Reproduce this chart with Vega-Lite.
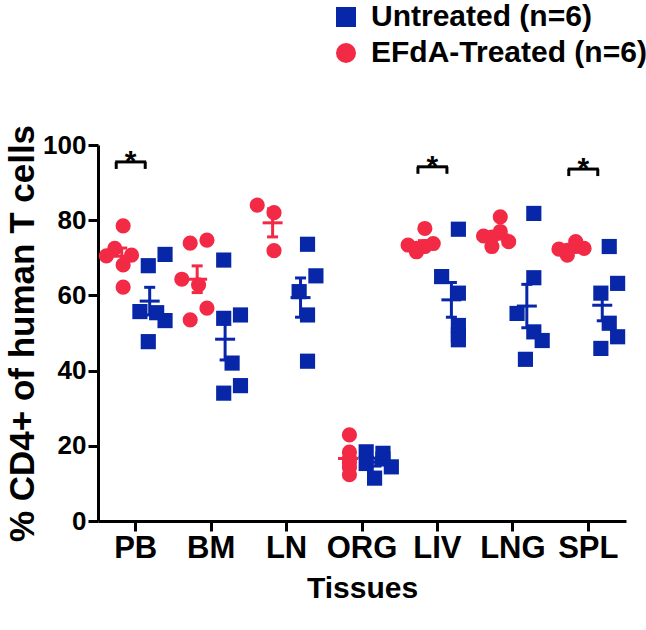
{
  "$schema": "https://vega.github.io/schema/vega-lite/v6.json",
  "autosize": "none",
  "width": 528,
  "height": 376,
  "padding": {"left": 98, "top": 145, "right": 20, "bottom": 109},
  "background": "white",
  "config": {
    "view": {"stroke": null},
    "font": "Liberation Sans",
    "axis": {
      "grid": false,
      "domainColor": "black",
      "domainWidth": 3,
      "tickColor": "black",
      "tickWidth": 3,
      "tickSize": 10,
      "labelColor": "black",
      "labelFont": "Liberation Sans",
      "labelFontWeight": "bold",
      "titleColor": "black",
      "titleFont": "Liberation Sans",
      "titleFontWeight": "bold"
    }
  },
  "datasets": {
    "pts": [
      {"tissue": "PB", "group": "EFdA-Treated", "value": 78.5, "slot": 3},
      {"tissue": "PB", "group": "EFdA-Treated", "value": 72.5, "slot": 2},
      {"tissue": "PB", "group": "EFdA-Treated", "value": 70.5, "slot": 1},
      {"tissue": "PB", "group": "EFdA-Treated", "value": 68.1, "slot": 3},
      {"tissue": "PB", "group": "EFdA-Treated", "value": 70.7, "slot": 4},
      {"tissue": "PB", "group": "EFdA-Treated", "value": 62.2, "slot": 3},
      {"tissue": "PB", "group": "Untreated", "value": 70.9, "slot": 8},
      {"tissue": "PB", "group": "Untreated", "value": 67.9, "slot": 6},
      {"tissue": "PB", "group": "Untreated", "value": 55.7, "slot": 5},
      {"tissue": "PB", "group": "Untreated", "value": 55.4, "slot": 7},
      {"tissue": "PB", "group": "Untreated", "value": 53.3, "slot": 8},
      {"tissue": "PB", "group": "Untreated", "value": 47.7, "slot": 6},
      {"tissue": "BM", "group": "EFdA-Treated", "value": 73.9, "slot": 2},
      {"tissue": "BM", "group": "EFdA-Treated", "value": 74.7, "slot": 4},
      {"tissue": "BM", "group": "EFdA-Treated", "value": 64.3, "slot": 1},
      {"tissue": "BM", "group": "EFdA-Treated", "value": 62.8, "slot": 3},
      {"tissue": "BM", "group": "EFdA-Treated", "value": 56.6, "slot": 4},
      {"tissue": "BM", "group": "EFdA-Treated", "value": 53.5, "slot": 2},
      {"tissue": "BM", "group": "Untreated", "value": 69.4, "slot": 6},
      {"tissue": "BM", "group": "Untreated", "value": 53.9, "slot": 6},
      {"tissue": "BM", "group": "Untreated", "value": 54.8, "slot": 8},
      {"tissue": "BM", "group": "Untreated", "value": 42.0, "slot": 7},
      {"tissue": "BM", "group": "Untreated", "value": 36.0, "slot": 8},
      {"tissue": "BM", "group": "Untreated", "value": 34.0, "slot": 6},
      {"tissue": "LN", "group": "EFdA-Treated", "value": 84.0, "slot": 1},
      {"tissue": "LN", "group": "EFdA-Treated", "value": 82.0, "slot": 3},
      {"tissue": "LN", "group": "EFdA-Treated", "value": 71.9, "slot": 3},
      {"tissue": "LN", "group": "Untreated", "value": 73.6, "slot": 7},
      {"tissue": "LN", "group": "Untreated", "value": 65.2, "slot": 8},
      {"tissue": "LN", "group": "Untreated", "value": 61.0, "slot": 6},
      {"tissue": "LN", "group": "Untreated", "value": 54.8, "slot": 7},
      {"tissue": "LN", "group": "Untreated", "value": 42.5, "slot": 7},
      {"tissue": "ORG", "group": "EFdA-Treated", "value": 22.9, "slot": 3},
      {"tissue": "ORG", "group": "EFdA-Treated", "value": 18.3, "slot": 3},
      {"tissue": "ORG", "group": "EFdA-Treated", "value": 16.6, "slot": 3},
      {"tissue": "ORG", "group": "EFdA-Treated", "value": 15.5, "slot": 3},
      {"tissue": "ORG", "group": "EFdA-Treated", "value": 14.2, "slot": 3},
      {"tissue": "ORG", "group": "EFdA-Treated", "value": 12.3, "slot": 3},
      {"tissue": "ORG", "group": "Untreated", "value": 18.4, "slot": 5},
      {"tissue": "ORG", "group": "Untreated", "value": 18.0, "slot": 7},
      {"tissue": "ORG", "group": "Untreated", "value": 16.5, "slot": 7},
      {"tissue": "ORG", "group": "Untreated", "value": 15.3, "slot": 5},
      {"tissue": "ORG", "group": "Untreated", "value": 14.4, "slot": 8},
      {"tissue": "ORG", "group": "Untreated", "value": 11.4, "slot": 6},
      {"tissue": "LIV", "group": "EFdA-Treated", "value": 77.8, "slot": 3},
      {"tissue": "LIV", "group": "EFdA-Treated", "value": 73.4, "slot": 1},
      {"tissue": "LIV", "group": "EFdA-Treated", "value": 71.6, "slot": 2},
      {"tissue": "LIV", "group": "EFdA-Treated", "value": 73.8, "slot": 4},
      {"tissue": "LIV", "group": "EFdA-Treated", "value": 73.0, "slot": 3},
      {"tissue": "LIV", "group": "EFdA-Treated", "value": 72.5, "slot": 2},
      {"tissue": "LIV", "group": "Untreated", "value": 77.6, "slot": 7},
      {"tissue": "LIV", "group": "Untreated", "value": 65.0, "slot": 5},
      {"tissue": "LIV", "group": "Untreated", "value": 60.6, "slot": 7},
      {"tissue": "LIV", "group": "Untreated", "value": 52.0, "slot": 7},
      {"tissue": "LIV", "group": "Untreated", "value": 49.5, "slot": 7},
      {"tissue": "LIV", "group": "Untreated", "value": 48.2, "slot": 7},
      {"tissue": "LNG", "group": "EFdA-Treated", "value": 80.9, "slot": 3},
      {"tissue": "LNG", "group": "EFdA-Treated", "value": 75.8, "slot": 1},
      {"tissue": "LNG", "group": "EFdA-Treated", "value": 77.0, "slot": 3},
      {"tissue": "LNG", "group": "EFdA-Treated", "value": 74.3, "slot": 4},
      {"tissue": "LNG", "group": "EFdA-Treated", "value": 73.0, "slot": 2},
      {"tissue": "LNG", "group": "EFdA-Treated", "value": 75.5, "slot": 2},
      {"tissue": "LNG", "group": "Untreated", "value": 81.8, "slot": 7},
      {"tissue": "LNG", "group": "Untreated", "value": 64.7, "slot": 7},
      {"tissue": "LNG", "group": "Untreated", "value": 55.2, "slot": 5},
      {"tissue": "LNG", "group": "Untreated", "value": 50.3, "slot": 7},
      {"tissue": "LNG", "group": "Untreated", "value": 48.0, "slot": 8},
      {"tissue": "LNG", "group": "Untreated", "value": 43.0, "slot": 6},
      {"tissue": "SPL", "group": "EFdA-Treated", "value": 72.3, "slot": 1},
      {"tissue": "SPL", "group": "EFdA-Treated", "value": 74.3, "slot": 3},
      {"tissue": "SPL", "group": "EFdA-Treated", "value": 70.7, "slot": 2},
      {"tissue": "SPL", "group": "EFdA-Treated", "value": 72.5, "slot": 4},
      {"tissue": "SPL", "group": "EFdA-Treated", "value": 73.0, "slot": 3},
      {"tissue": "SPL", "group": "EFdA-Treated", "value": 72.0, "slot": 2},
      {"tissue": "SPL", "group": "Untreated", "value": 73.0, "slot": 7},
      {"tissue": "SPL", "group": "Untreated", "value": 63.2, "slot": 8},
      {"tissue": "SPL", "group": "Untreated", "value": 60.6, "slot": 6},
      {"tissue": "SPL", "group": "Untreated", "value": 52.6, "slot": 7},
      {"tissue": "SPL", "group": "Untreated", "value": 49.0, "slot": 8},
      {"tissue": "SPL", "group": "Untreated", "value": 45.9, "slot": 6}
    ],
    "sig": [
      {"tissue": "PB", "level": 95.5, "label": "*"},
      {"tissue": "LIV", "level": 94.2, "label": "*"},
      {"tissue": "SPL", "level": 93.6, "label": "*"}
    ]
  },
  "layer": [
    {
      "data": {"name": "pts"},
      "mark": {"type": "point", "filled": true, "opacity": 1, "size": 230},
      "encoding": {
        "x": {
          "field": "tissue", "type": "nominal", "title": "Tissues",
          "scale": {"domain": ["PB", "BM", "LN", "ORG", "LIV", "LNG", "SPL"], "paddingInner": 0, "paddingOuter": 0},
          "axis": {"labelAngle": 0, "labelFontSize": 31, "labelPadding": 2, "titleFontSize": 30, "titlePadding": 10}
        },
        "xOffset": {
          "field": "slot", "type": "ordinal",
          "scale": {"domain": [0, 1, 2, 3, 4, 5, 6, 7, 8, 9], "paddingInner": 0, "paddingOuter": 0}
        },
        "y": {
          "field": "value", "type": "quantitative", "title": "% CD4+ of human T cells",
          "scale": {"domain": [0, 100], "nice": false},
          "axis": {"values": [0, 20, 40, 60, 80, 100], "labelFontSize": 26, "labelPadding": 2, "titleFontSize": 35, "titleX": -76, "titleY": 188, "titleAlign": "center", "titleBaseline": "middle", "titleAngle": -90}
        },
        "color": {
          "field": "group", "type": "nominal",
          "scale": {"domain": ["Untreated", "EFdA-Treated"], "range": ["#0726A8", "#F22A45"]},
          "legend": {"title": null, "orient": "none", "legendX": 233, "legendY": -143, "labelExpr": "datum.label + ' (n=6)'", "labelFontSize": 30, "labelFontWeight": "bold", "labelColor": "black", "labelFont": "Liberation Sans", "labelLimit": 0, "symbolSize": 400, "rowPadding": 6, "labelOffset": 10, "padding": 0, "symbolOpacity": 1, "symbolStrokeWidth": 0}
        },
        "shape": {
          "field": "group", "type": "nominal",
          "scale": {"domain": ["Untreated", "EFdA-Treated"], "range": ["square", "circle"]}
        }
      }
    },
    {
      "data": {"name": "pts"},
      "transform": [
        {"aggregate": [{"op": "mean", "field": "value", "as": "mean"}, {"op": "stderr", "field": "value", "as": "sem"}], "groupby": ["tissue", "group"]},
        {"calculate": "datum.mean - datum.sem", "as": "lo"},
        {"calculate": "datum.mean + datum.sem", "as": "hi"}
      ],
      "encoding": {
        "x": {"field": "tissue", "type": "nominal", "title": "Tissues"},
        "xOffset": {
          "field": "group", "type": "nominal",
          "scale": {"domain": ["EFdA-Treated", "Untreated"], "paddingInner": 0, "paddingOuter": 0.35}
        },
        "color": {"field": "group", "type": "nominal", "legend": null}
      },
      "layer": [
        {"mark": {"type": "rule", "strokeWidth": 3}, "encoding": {"y": {"field": "lo", "type": "quantitative", "title": "% CD4+ of human T cells"}, "y2": {"field": "hi"}}},
        {"mark": {"type": "tick", "size": 11, "thickness": 3, "opacity": 1}, "encoding": {"y": {"field": "lo", "type": "quantitative", "title": "% CD4+ of human T cells"}}},
        {"mark": {"type": "tick", "size": 11, "thickness": 3, "opacity": 1}, "encoding": {"y": {"field": "hi", "type": "quantitative", "title": "% CD4+ of human T cells"}}},
        {"mark": {"type": "tick", "size": 20, "thickness": 3, "opacity": 1}, "encoding": {"y": {"field": "mean", "type": "quantitative", "title": "% CD4+ of human T cells"}}}
      ]
    },
    {
      "data": {"name": "sig"},
      "encoding": {
        "x": {"field": "tissue", "type": "nominal", "title": "Tissues"},
        "y": {"field": "level", "type": "quantitative", "title": "% CD4+ of human T cells"}
      },
      "layer": [
        {"mark": {"type": "tick", "size": 31, "thickness": 3, "xOffset": -5, "color": "black", "opacity": 1}},
        {"mark": {"type": "rule", "strokeWidth": 3, "xOffset": -19.5, "y2Offset": 7, "color": "black"}, "encoding": {"y2": {"field": "level"}}},
        {"mark": {"type": "rule", "strokeWidth": 3, "xOffset": 9.5, "y2Offset": 7, "color": "black"}, "encoding": {"y2": {"field": "level"}}},
        {"mark": {"type": "text", "fontSize": 30, "fontWeight": "bold", "font": "Liberation Sans", "xOffset": -5, "yOffset": 9, "baseline": "alphabetic", "color": "black"}, "encoding": {"text": {"field": "label"}}}
      ]
    }
  ],
  "resolve": {"scale": {"xOffset": "independent"}}
}
